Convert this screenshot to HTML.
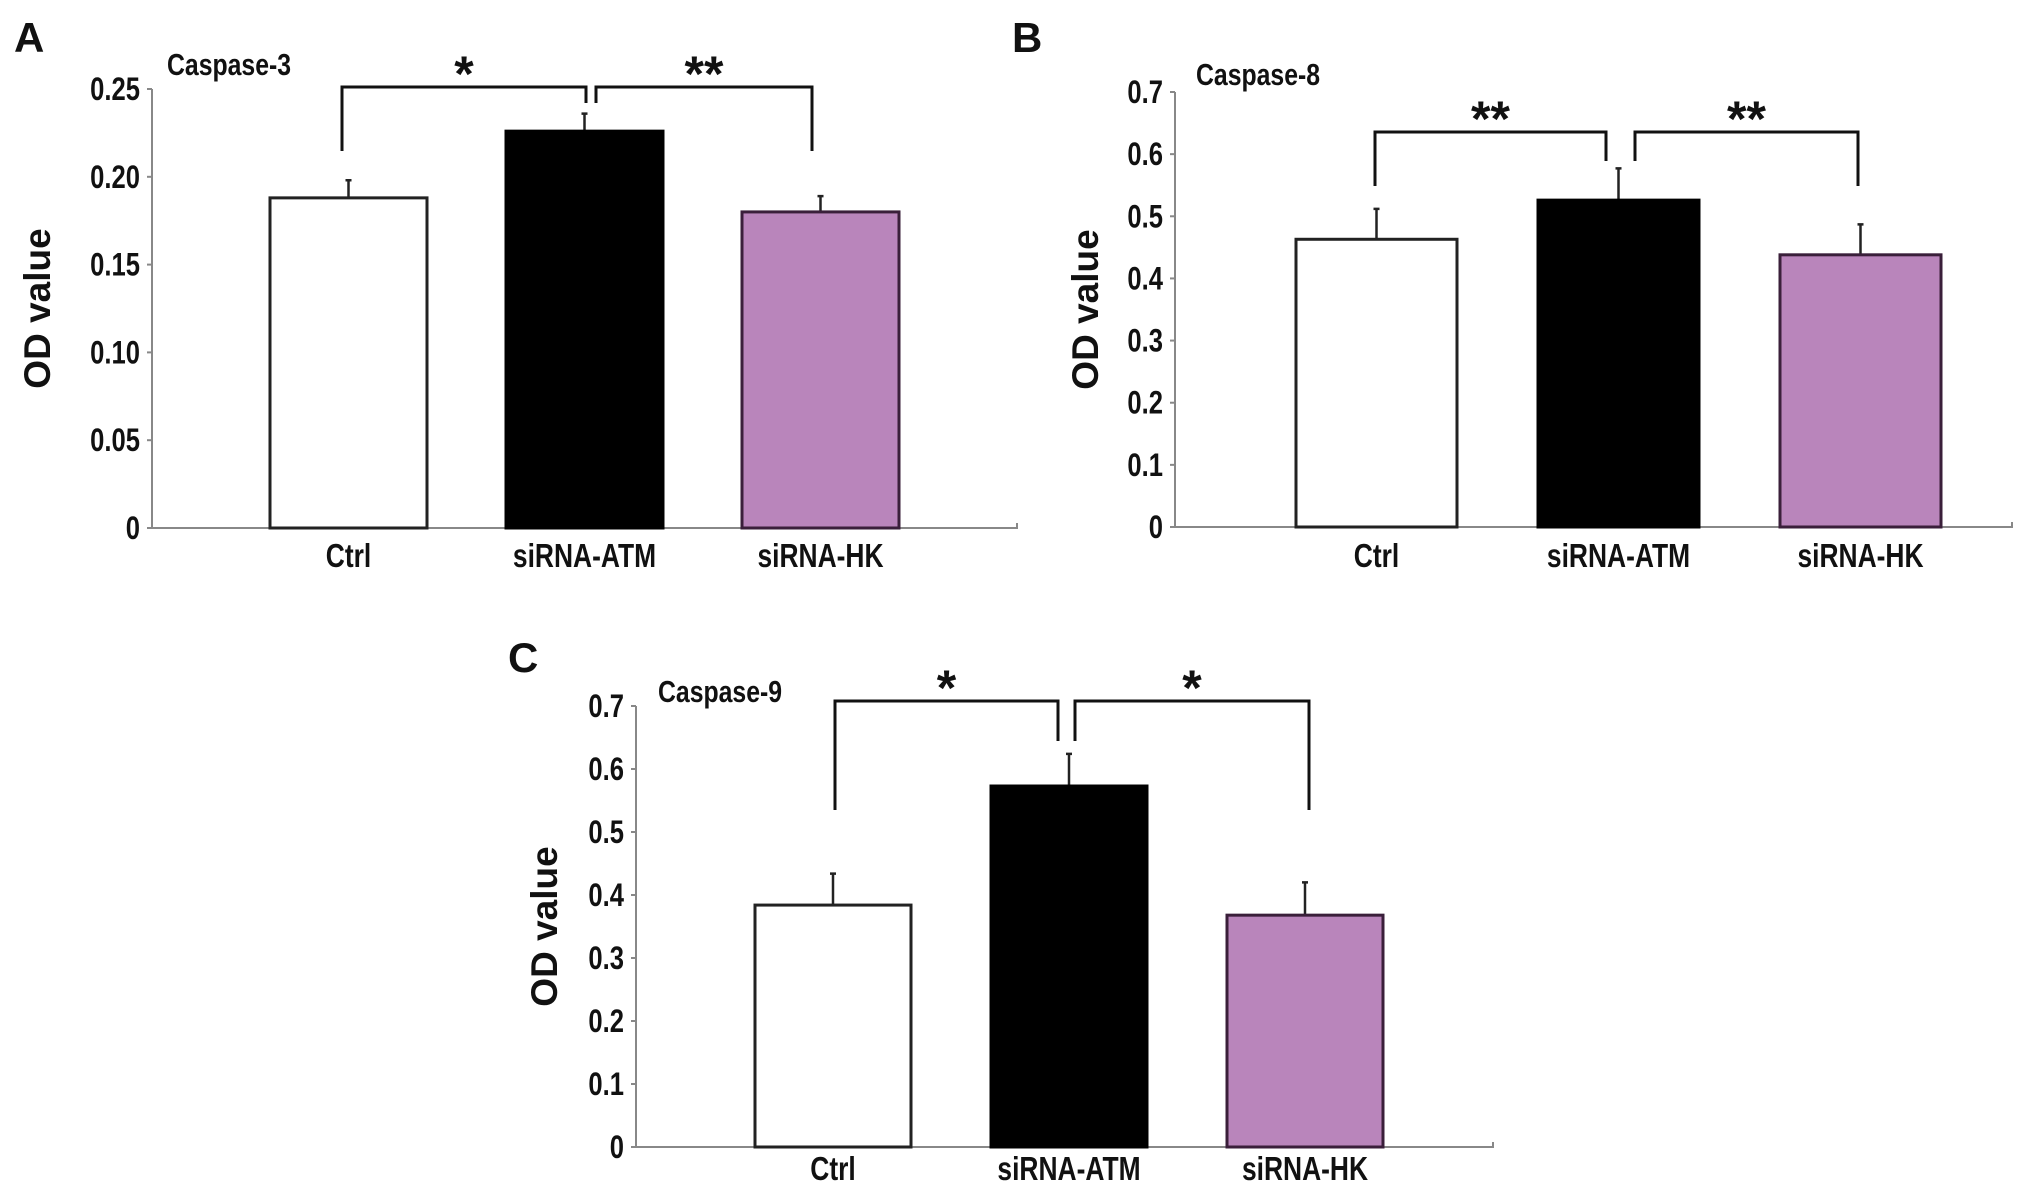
<!DOCTYPE html>
<html><head><meta charset="utf-8"><style>
html,body{margin:0;padding:0;background:#fff;}
svg{display:block;}
.t{font-family:"Liberation Sans Narrow","Liberation Sans",sans-serif;font-weight:bold;fill:#111;}
.yl{font-family:"Liberation Sans",sans-serif;font-weight:bold;fill:#111;}
</style></head><body>
<svg id="fig" width="2031" height="1196" viewBox="0 0 2031 1196"></svg>
<script>
const categories = ["Ctrl", "siRNA-ATM", "siRNA-HK"];
const casp3Values = [0.188, 0.226, 0.180];
const casp3Errors = [0.010, 0.010, 0.009];
const casp8Values = [0.463, 0.526, 0.438];
const casp8Errors = [0.049, 0.051, 0.049];
const casp9Values = [0.384, 0.573, 0.368];
const casp9Errors = [0.050, 0.051, 0.052];
const casp3Ticks = ["0", "0.05", "0.10", "0.15", "0.20", "0.25"];
const casp8Ticks = ["0", "0.1", "0.2", "0.3", "0.4", "0.5", "0.6", "0.7"];
const casp9Ticks = ["0", "0.1", "0.2", "0.3", "0.4", "0.5", "0.6", "0.7"];
const casp3Sig = ["*", "**"];
const casp8Sig = ["**", "**"];
const casp9Sig = ["*", "*"];

const NS = "http://www.w3.org/2000/svg";
const svg = document.getElementById("fig");
function mk(tag, attrs, parent, text) {
  const e = document.createElementNS(NS, tag);
  for (const k in attrs) e.setAttribute(k, attrs[k]);
  if (text !== undefined) e.textContent = text;
  (parent || svg).appendChild(e);
  return e;
}
function ntext(parent, x, y, size, anchor, str) {
  return mk("text", {x: 0, y: 0, class: "t", "font-size": size, "text-anchor": anchor,
    transform: `translate(${x} ${y}) scale(0.8 1)`}, parent, str);
}
const fills = ["#ffffff", "#000000", "#b985bb"];
const strokes = ["#222", "#000", "#3a1f3a"];

function panel(cfg) {
  const g = mk("g", {});
  
  
  const ymax = cfg.ymax;
  const y = v => cfg.y0 - (v / ymax) * (cfg.y0 - cfg.yTop);
  const barW = cfg.barW;
  const xc = i => cfg.barX0 + barW / 2 + i * cfg.step;
  const L = mk("text", {x: cfg.letterX, y: cfg.letterY, class: "yl", "font-size": 42}, g, cfg.letter);
  
  
  const T = ntext(g, cfg.titleX, cfg.titleY, 31, "start", cfg.title);
  
  
  const yc = (cfg.y0 + cfg.yTop) / 2;
  const YT = mk("text", {x: cfg.ylabX, y: yc, class: "yl", "font-size": 37, "text-anchor": "middle", transform: `rotate(-90 ${cfg.ylabX} ${yc})`}, g, "OD value");
  
  
  const ax = mk("path", {d: `M${cfg.ax} ${cfg.yTop} V${cfg.y0} H${cfg.axEnd} v-5`, stroke: "#888", "stroke-width": 2, fill: "none"}, g);
  
  
  const nT = cfg.ticks.length;
  cfg.ticks.forEach((lab, i) => {
    const v = ymax * i / (nT - 1);
    const yy = y(v);
    mk("line", {x1: cfg.ax - 5, x2: cfg.ax, y1: yy, y2: yy, stroke: "#888", "stroke-width": 2}, g);
    const tl = ntext(g, cfg.ax - 12, yy + 11, 32, "end", lab);
    
    
  });
  cfg.values.forEach((v, i) => {
    const top = y(v);
    const eb = y(v + cfg.errors[i]);
    const e1 = mk("path", {d: `M${xc(i)} ${top} V${eb} M${xc(i)-3} ${eb} H${xc(i)+3}`, stroke: "#222", "stroke-width": 2.5, fill: "none"}, g);
    
    
    const r = mk("rect", {x: xc(i) - barW / 2, y: top, width: barW, height: cfg.y0 - top, fill: fills[i], stroke: strokes[i], "stroke-width": 3}, g);
    
    
    const xl = ntext(g, xc(i), cfg.xlabY + 2, 33, "middle", categories[i]);
    
    
  });
  const b = cfg.br;
  const br1 = mk("path", {d: `M${b.l} ${b.lowL} V${b.top} H${b.m1} V${b.midLow}`, stroke: "#111", "stroke-width": 3, fill: "none"}, g);
  
  
  const br2 = mk("path", {d: `M${b.m2} ${b.midLow} V${b.top} H${b.r} V${b.lowL}`, stroke: "#111", "stroke-width": 3, fill: "none"}, g);
  
  
  cfg.sig.forEach((s, i) => {
    const sx = i === 0 ? (b.l + b.m1) / 2 : (b.m2 + b.r) / 2;
    const st = mk("text", {x: sx, y: b.top + 4, class: "yl", "font-size": 50, "text-anchor": "middle"}, g, s);
    
    
  });
}

panel({name: "panel-a-caspase-3", letter: "A", letterX: 14, letterY: 52, title: "Caspase-3", titleX: 167, titleY: 75,
  ylabX: 50, ax: 152, axEnd: 1017, y0: 528, yTop: 89, ymax: 0.25, ticks: casp3Ticks,
  barX0: 270, barW: 157, step: 236, values: casp3Values, errors: casp3Errors, xlabY: 565,
  br: {l: 342, m1: 586, m2: 596, r: 812, top: 87, lowL: 151, midLow: 103}, sig: casp3Sig});
panel({name: "panel-b-caspase-8", letter: "B", letterX: 1012, letterY: 52, title: "Caspase-8", titleX: 1196, titleY: 85,
  ylabX: 1098, ax: 1175, axEnd: 2012, y0: 527, yTop: 92, ymax: 0.7, ticks: casp8Ticks,
  barX0: 1296, barW: 161, step: 242, values: casp8Values, errors: casp8Errors, xlabY: 565,
  br: {l: 1375, m1: 1606, m2: 1635, r: 1858, top: 132, lowL: 186, midLow: 161}, sig: casp8Sig});
panel({name: "panel-c-caspase-9", letter: "C", letterX: 508, letterY: 672, title: "Caspase-9", titleX: 658, titleY: 702,
  ylabX: 557, ax: 636, axEnd: 1493, y0: 1147, yTop: 706, ymax: 0.7, ticks: casp9Ticks,
  barX0: 755, barW: 156, step: 236, values: casp9Values, errors: casp9Errors, xlabY: 1178,
  br: {l: 835, m1: 1058, m2: 1075, r: 1309, top: 701, lowL: 810, midLow: 741}, sig: casp9Sig});
</script>
</body></html>
